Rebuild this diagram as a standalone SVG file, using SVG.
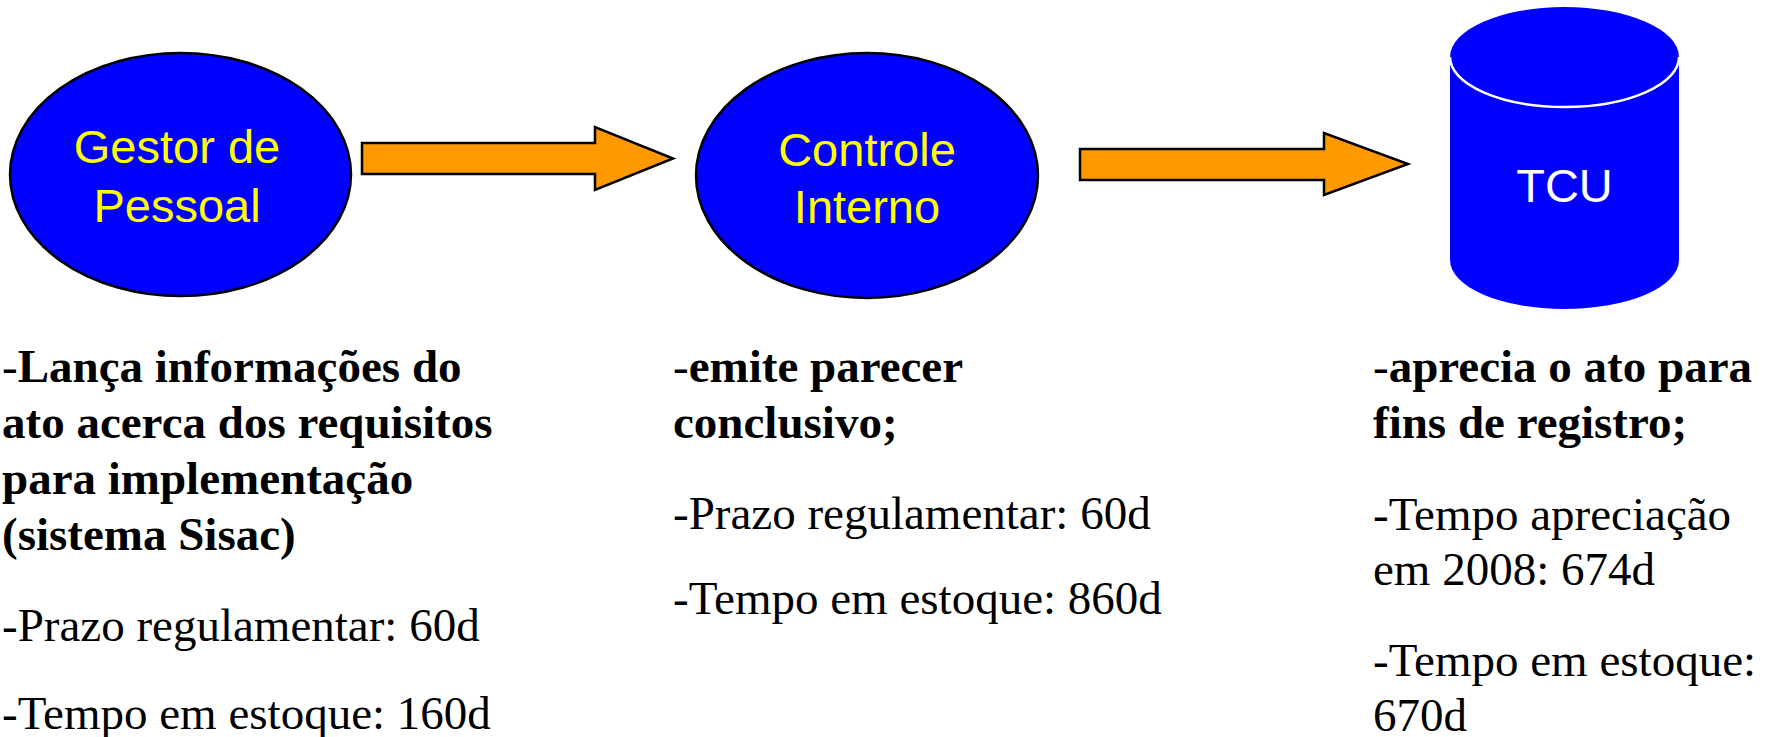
<svg xmlns="http://www.w3.org/2000/svg" width="1775" height="737" viewBox="0 0 1775 737">
<style>
.node{fill:#0000FF;stroke:#000;stroke-width:2.5}
.lbl{font-family:"Liberation Sans",Arial,sans-serif;font-size:47px;fill:#FFFF00;text-anchor:middle}
.tcu{font-family:"Liberation Sans",Arial,sans-serif;font-size:47px;fill:#FFFFFF;text-anchor:middle}
.arrow{fill:#FF9900;stroke:#000;stroke-width:2.5;stroke-linejoin:miter}
.txt{font-family:"Liberation Serif","Times New Roman",serif;font-size:47px;fill:#000}
.b{font-weight:bold}
</style>
<rect width="1775" height="737" fill="#FFFFFF"/>
<g id="connectors">
<polygon class="arrow" points="362,143 595,143 595,127 673,158.5 595,190 595,174 362,174"/>
<polygon class="arrow" points="1080,149 1324,149 1324,133 1408,164 1324,195 1324,180 1080,180"/>
</g>
<g id="gestor">
<ellipse class="node" cx="180.5" cy="174.5" rx="170.5" ry="121.5"/>
<text class="lbl" x="177" y="163">Gestor de</text>
<text class="lbl" x="177" y="222">Pessoal</text>
</g>
<g id="controle">
<ellipse class="node" cx="867" cy="175.5" rx="171" ry="122.5"/>
<text class="lbl" x="867" y="166">Controle</text>
<text class="lbl" x="867" y="223">Interno</text>
</g>
<g id="tcu">
<path d="M1450,57 L1450,260 A114.5,49 0 0 0 1679,260 L1679,57 Z" fill="#0000FF"/>
<ellipse cx="1564.5" cy="57" rx="114.5" ry="50" fill="#0000FF"/>
<path d="M1450,57 A114.5,50 0 0 0 1679,57" fill="none" stroke="#FFFFFF" stroke-width="2.5"/>
<text class="tcu" x="1564.5" y="202">TCU</text>
</g>
<g id="texto-gestor" class="txt">
<text x="2" y="382">-<tspan class="b">Lança informações do</tspan></text>
<text x="2" y="438" class="b">ato acerca dos requisitos</text>
<text x="2" y="494" class="b">para implementação</text>
<text x="2" y="550" class="b">(sistema Sisac)</text>
<text x="2" y="641">-Prazo regulamentar: 60d</text>
<text x="2" y="729">-Tempo em estoque: 160d</text>
</g>
<g id="texto-controle" class="txt">
<text x="673" y="382">-<tspan class="b">emite parecer</tspan></text>
<text x="673" y="438" class="b">conclusivo;</text>
<text x="673" y="529">-Prazo regulamentar: 60d</text>
<text x="673" y="614">-Tempo em estoque: 860d</text>
</g>
<g id="texto-tcu" class="txt">
<text x="1373" y="382">-<tspan class="b">aprecia o ato para</tspan></text>
<text x="1373" y="438" class="b">fins de registro;</text>
<text x="1373" y="530">-Tempo apreciação</text>
<text x="1373" y="585">em 2008: 674d</text>
<text x="1373" y="676">-Tempo em estoque:</text>
<text x="1373" y="731">670d</text>
</g>
</svg>
